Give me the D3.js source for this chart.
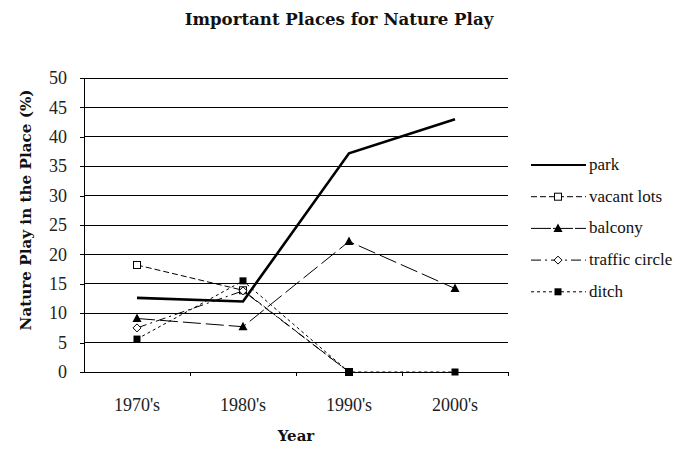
<!DOCTYPE html>
<html><head><meta charset="utf-8">
<script src="https://cdn.jsdelivr.net/npm/d3@7"></script>
<style>body{margin:0;background:#fff}text{font-family:"Liberation Serif","DejaVu Serif",serif}</style>
</head><body><svg id="c" width="694" height="458"></svg>
<script>
const categories = ["1970's","1980's","1990's","2000's"];
const seriesNames = ["park","vacant lots","balcony","traffic circle","ditch"];
const park = [12.6, 12.0, 37.2, 43.0];
const vacantLots = [18.2, 13.9, 0, null];
const balcony = [9.1, 7.7, 22.2, 14.2];
const trafficCircle = [7.5, 13.8, 0, null];
const ditch = [5.6, 15.5, 0, 0];
const yTicks = [0,5,10,15,20,25,30,35,40,45,50];

const series = [
  {name:seriesNames[0], values:park, dash:null, width:2.6, marker:null},
  {name:seriesNames[1], values:vacantLots, dash:"6,3", width:1, marker:"squareOpen"},
  {name:seriesNames[2], values:balcony, dash:"18,5", width:1, marker:"triangle", legendDash:"20,2"},
  {name:seriesNames[3], values:trafficCircle, dash:"10,4,2,4", width:1, marker:"diamond"},
  {name:seriesNames[4], values:ditch, dash:"3,3", width:1, marker:"squareFilled"}
];

const svg = d3.select("#c");
const L=84,R=508,T=78,B=372;
const x = d3.scaleBand().domain(categories).range([L,R]);
const y = d3.scaleLinear().domain([0,50]).range([B,T]);
const tickFont = "'Liberation Serif',serif";

// gridlines
svg.append("g").selectAll("line").data(yTicks.filter(d=>d>0)).join("line")
  .attr("x1",L).attr("x2",R).attr("y1",d=>y(d)).attr("y2",d=>y(d))
  .attr("stroke","#000").attr("stroke-width",1).attr("shape-rendering","crispEdges");

// y axis
const ya = svg.append("g").attr("transform",`translate(${L},0)`)
  .call(d3.axisLeft(y).tickValues(yTicks).tickSize(4).tickPadding(13).tickFormat(d3.format("d")));
ya.select(".domain").attr("stroke","#000").attr("shape-rendering","crispEdges");
ya.selectAll(".tick line").attr("shape-rendering","crispEdges");
ya.selectAll("text").attr("font-size",18).attr("fill","#222").style("font-family",tickFont);

// x axis
const xa = svg.append("g").attr("transform",`translate(0,${B})`)
  .call(d3.axisBottom(x).tickSize(0).tickPadding(26));
xa.select(".domain").attr("stroke","#000").attr("shape-rendering","crispEdges");
xa.selectAll("text").attr("font-size",18).attr("fill","#222").style("font-family",tickFont);
// band boundary ticks
const bounds = categories.map(c=>x(c)).concat([R]).slice(1);
svg.append("g").selectAll("line").data(bounds).join("line")
  .attr("x1",d=>d).attr("x2",d=>d).attr("y1",B).attr("y2",B+4)
  .attr("stroke","#000").attr("shape-rendering","crispEdges");

const cx = c => x(c) + x.bandwidth()/2;

function drawMarker(g, type, px, py){
  if(type==="squareOpen") g.append("rect").attr("x",px-3.5).attr("y",py-3.5).attr("width",7).attr("height",7).attr("fill","#fff").attr("stroke","#000").attr("stroke-width",1);
  else if(type==="squareFilled") g.append("rect").attr("x",px-3.5).attr("y",py-3.5).attr("width",7).attr("height",7).attr("fill","#000");
  else if(type==="triangle") g.append("path").attr("d",`M${px},${py-5}L${px+4.5},${py+3.5}L${px-4.5},${py+3.5}Z`).attr("fill","#000");
  else if(type==="diamond") g.append("path").attr("d",`M${px},${py-4}L${px+4},${py}L${px},${py+4}L${px-4},${py}Z`).attr("fill","#fff").attr("stroke","#000");
}

const line = d3.line().defined(d=>d.v!=null).x(d=>cx(d.c)).y(d=>y(d.v));
const order = [1,3,2,4,0];
order.forEach(i=>{
  const s = series[i];
  const pts = categories.map((c,j)=>({c, v:s.values[j]}));
  const g = svg.append("g");
  g.append("path").datum(pts).attr("d",line).attr("fill","none").attr("stroke","#000")
    .attr("stroke-width",s.width).attr("stroke-dasharray",s.dash);
  if(s.marker) pts.filter(d=>d.v!=null).forEach(d=>drawMarker(g,s.marker,cx(d.c),y(d.v)));
});

// legend
const lg = svg.append("g");
series.forEach((s,i)=>{
  const ly = 165 + i*31.7;
  lg.append("line").attr("x1",531).attr("x2",586).attr("y1",ly).attr("y2",ly)
    .attr("stroke","#000").attr("stroke-width",s.width===1?1:2).attr("stroke-dasharray",s.legendDash||s.dash);
  if(s.marker) drawMarker(lg,s.marker,558,ly);
  lg.append("text").attr("x",589).attr("y",ly+5).attr("font-size",17).attr("fill","#111").text(s.name);
});

// titles
const boldFont = "'DejaVu Serif',serif";
svg.append("text").attr("x",339).attr("y",25).attr("text-anchor","middle").attr("font-size",16.6).attr("font-weight","bold").attr("fill","#111").style("font-family",boldFont).text("Important Places for Nature Play");
svg.append("text").attr("x",296).attr("y",441).attr("text-anchor","middle").attr("font-size",15).attr("font-weight","bold").attr("fill","#111").style("font-family",boldFont).text("Year");
svg.append("text").attr("transform","translate(31,210) rotate(-90)").attr("text-anchor","middle").attr("font-size",15.2).attr("font-weight","bold").attr("fill","#111").style("font-family",boldFont).text("Nature Play in the Place (%)");
</script></body></html>
